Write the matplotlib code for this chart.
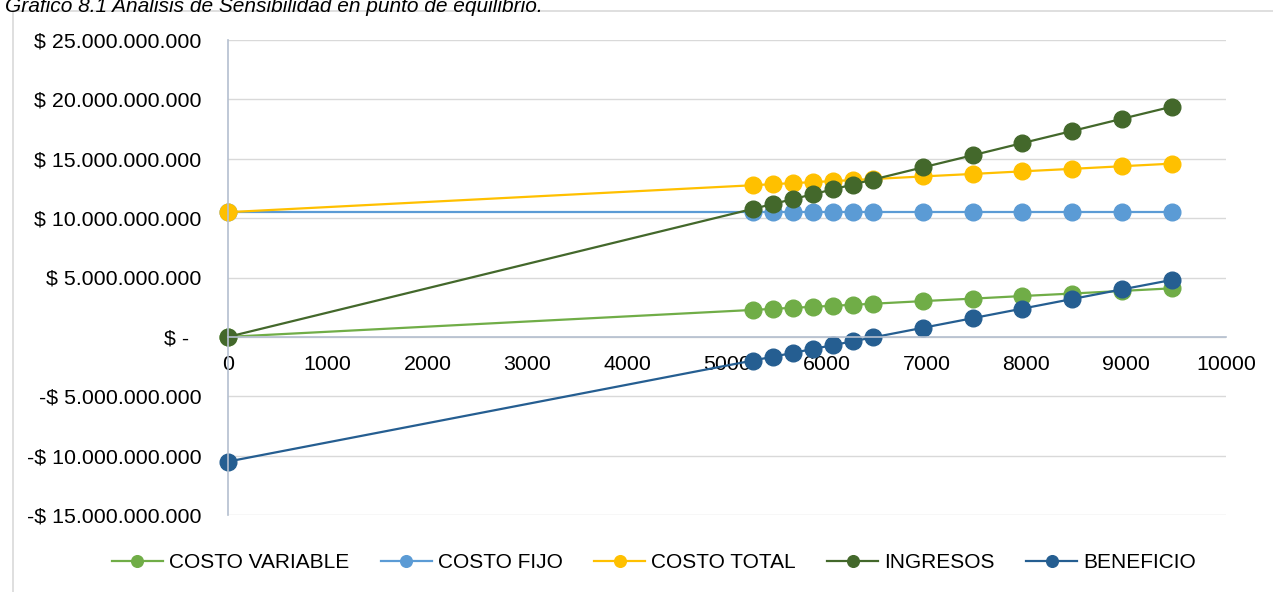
import matplotlib.pyplot as plt
from matplotlib.ticker import FuncFormatter, MultipleLocator
from matplotlib.patches import Rectangle

plt.rcParams['font.family'] = ['Liberation Sans', 'DejaVu Sans']

# units sold (x) and values in billions of pesos
unidades = [0, 5260, 5460, 5660, 5860, 6060, 6260, 6460, 6960, 7460, 7960, 8460, 8960, 9460]
costo_variable = [0, 2.27, 2.36, 2.45, 2.53, 2.62, 2.70, 2.79, 3.01, 3.22, 3.44, 3.65, 3.87, 4.09]
costo_fijo = [10.5] * 14
costo_total = [10.5, 12.77, 12.86, 12.95, 13.03, 13.12, 13.20, 13.29, 13.51, 13.72, 13.94, 14.15, 14.37, 14.59]
ingresos = [0, 10.78, 11.19, 11.60, 12.01, 12.42, 12.83, 13.24, 14.27, 15.29, 16.32, 17.34, 18.37, 19.39]
beneficio = [-10.5, -1.99, -1.67, -1.35, -1.02, -0.70, -0.37, -0.05, 0.76, 1.57, 2.38, 3.19, 4.00, 4.80]

series = [
    ('COSTO VARIABLE', costo_variable, '#70AD47'),
    ('COSTO FIJO', costo_fijo, '#5B9BD5'),
    ('COSTO TOTAL', costo_total, '#FFC000'),
    ('INGRESOS', ingresos, '#43682B'),
    ('BENEFICIO', beneficio, '#255E91'),
]

fig = plt.figure(figsize=(12.73, 5.92), dpi=100)
ax = fig.add_axes([228 / 1273, 1 - 515 / 592, (1226 - 228) / 1273, (515 - 40) / 592])

# light frame around chart area
fig.patches.append(Rectangle((13 / 1273, -0.1), 1.1, 1 - 11 / 592 + 0.1, transform=fig.transFigure,
                             fill=False, edgecolor='#D9D9D9', linewidth=1.2, zorder=0))

for name, vals, color in series:
    ax.plot(unidades, [v * 1e9 for v in vals], color=color, linewidth=1.6,
            marker='o', markersize=12, label=name, clip_on=False)

ax.set_xlim(0, 10000)
ax.set_ylim(-15e9, 25e9)
ax.xaxis.set_major_locator(MultipleLocator(1000))
ax.yaxis.set_major_locator(MultipleLocator(5e9))


def fmt_peso(v, pos):
    if abs(v) < 1:
        return '$ -  '
    s = f"{abs(v):,.0f}".replace(',', '.')
    return ('-$ ' if v < 0 else '$ ') + s


ax.yaxis.set_major_formatter(FuncFormatter(fmt_peso))

ax.grid(axis='y', color='#D9D9D9', linewidth=1)
ax.set_axisbelow(True)
for s in ['top', 'right']:
    ax.spines[s].set_visible(False)
ax.spines['bottom'].set_position(('data', 0))
ax.spines['bottom'].set_color('#B4BFCF')
ax.spines['bottom'].set_linewidth(1.2)
ax.spines['left'].set_color('#B4BFCF')
ax.spines['left'].set_linewidth(1.2)
ax.tick_params(axis='both', length=0, labelsize=15.4, colors='black')
ax.tick_params(axis='y', pad=19)
ax.tick_params(axis='x', pad=13)

fig.text(0.004, 1 - 12 / 592, 'Gráfico 8.1 Análisis de Sensibilidad en punto de equilibrio.',
         fontsize=15, style='italic', ha='left', va='baseline')

fig.legend(loc='center', bbox_to_anchor=(654 / 1273, 1 - 563 / 592), ncol=5, frameon=False,
           fontsize=15, handlelength=2.45, handletextpad=0.3, columnspacing=1.5, markerscale=0.7)

fig.savefig('out.png', dpi=100)
